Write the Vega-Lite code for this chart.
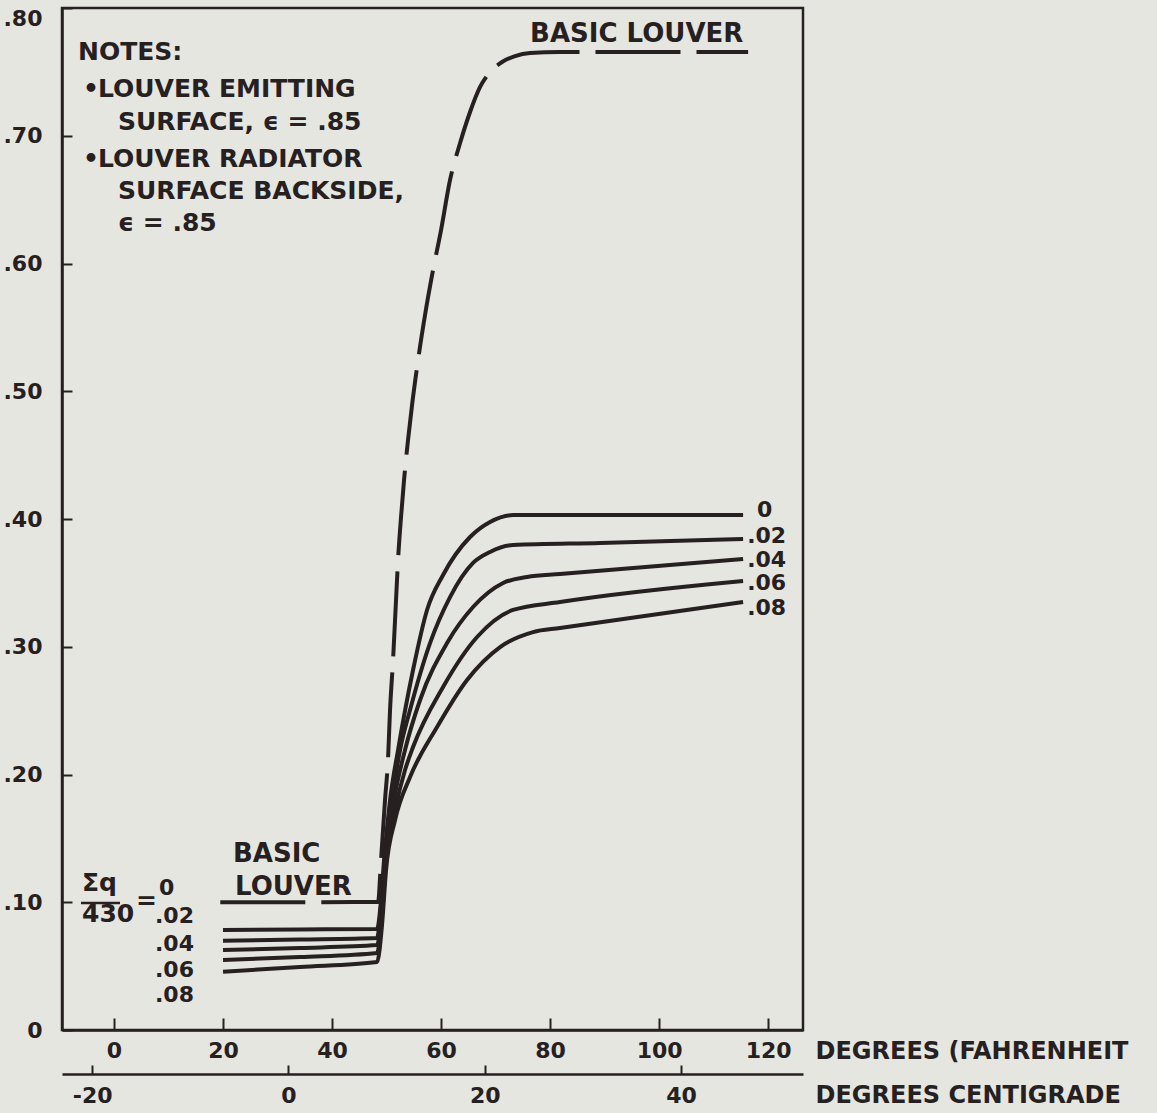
{
  "$schema": "https://vega.github.io/schema/vega-lite/v6.json",
  "width": 741,
  "height": 1022,
  "autosize": {"type": "none"},
  "padding": {"left": 62, "top": 8, "right": 354, "bottom": 83},
  "background": "#e5e6e0",
  "config": {
    "view": {"stroke": "#262020", "strokeWidth": 2.5},
    "font": "DejaVu Sans",
    "axis": {
      "domainColor": "#262020", "domainWidth": 2.5,
      "tickColor": "#262020", "tickWidth": 2,
      "labelColor": "#262020", "labelFont": "DejaVu Sans", "labelFontWeight": "bold", "labelFontSize": 22,
      "labelFlush": false, "labelOverlap": false, "grid": false,
      "titleColor": "#262020", "titleFont": "DejaVu Sans", "titleFontWeight": "bold", "titleFontSize": 24
    }
  },
  "datasets": {
    "basic": [
      {"f": 19.5, "v": 0.100}, {"f": 34.1, "v": 0.100}, {"f": 48.44, "v": 0.1002},
      {"f": 48.99, "v": 0.1331}, {"f": 49.72, "v": 0.180}, {"f": 50.28, "v": 0.2129},
      {"f": 50.64, "v": 0.2505}, {"f": 51.19, "v": 0.2896}, {"f": 51.74, "v": 0.3366},
      {"f": 52.11, "v": 0.3679}, {"f": 52.66, "v": 0.4016}, {"f": 53.21, "v": 0.4305},
      {"f": 53.94, "v": 0.4618}, {"f": 54.68, "v": 0.4892}, {"f": 55.60, "v": 0.519},
      {"f": 57.06, "v": 0.5597}, {"f": 58.53, "v": 0.5949}, {"f": 60.0, "v": 0.6262},
      {"f": 61.65, "v": 0.6654}, {"f": 63.49, "v": 0.6943}, {"f": 65.32, "v": 0.7186},
      {"f": 67.16, "v": 0.7382}, {"f": 69.0, "v": 0.7499}, {"f": 71.19, "v": 0.7577},
      {"f": 73.58, "v": 0.7624}, {"f": 76.33, "v": 0.7648}, {"f": 81.83, "v": 0.7656},
      {"f": 100.0, "v": 0.7656}, {"f": 116.33, "v": 0.7656}
    ],
    "curves": [
      {"q": "0", "f": 20.0, "v": 0.0783}, {"q": "0", "f": 34.13, "v": 0.0787}, {"q": "0", "f": 48.26, "v": 0.0791},
      {"q": "0", "f": 48.99, "v": 0.1018}, {"q": "0", "f": 49.54, "v": 0.1331}, {"q": "0", "f": 50.64, "v": 0.180},
      {"q": "0", "f": 52.11, "v": 0.2192}, {"q": "0", "f": 54.86, "v": 0.2818}, {"q": "0", "f": 57.43, "v": 0.3288},
      {"q": "0", "f": 60.37, "v": 0.3562}, {"q": "0", "f": 65.32, "v": 0.3859}, {"q": "0", "f": 68.99, "v": 0.3977},
      {"q": "0", "f": 73.21, "v": 0.4031}, {"q": "0", "f": 89.17, "v": 0.4031}, {"q": "0", "f": 115.41, "v": 0.4031},

      {"q": ".02", "f": 20.0, "v": 0.0699}, {"q": ".02", "f": 34.13, "v": 0.0708}, {"q": ".02", "f": 48.26, "v": 0.072},
      {"q": ".02", "f": 48.99, "v": 0.0978}, {"q": ".02", "f": 49.72, "v": 0.1331}, {"q": ".02", "f": 51.01, "v": 0.180},
      {"q": ".02", "f": 52.48, "v": 0.2192}, {"q": ".02", "f": 54.31, "v": 0.2505}, {"q": ".02", "f": 57.98, "v": 0.3029},
      {"q": ".02", "f": 61.65, "v": 0.3389}, {"q": ".02", "f": 65.87, "v": 0.3656}, {"q": ".02", "f": 68.99, "v": 0.3742},
      {"q": ".02", "f": 73.21, "v": 0.3796}, {"q": ".02", "f": 89.17, "v": 0.3812}, {"q": ".02", "f": 115.41, "v": 0.3843},

      {"q": ".04", "f": 20.0, "v": 0.0626}, {"q": ".04", "f": 34.13, "v": 0.0642}, {"q": ".04", "f": 48.26, "v": 0.0665},
      {"q": ".04", "f": 49.17, "v": 0.0939}, {"q": ".04", "f": 49.91, "v": 0.1331}, {"q": ".04", "f": 51.38, "v": 0.180},
      {"q": ".04", "f": 53.39, "v": 0.2192}, {"q": ".04", "f": 56.15, "v": 0.2583}, {"q": ".04", "f": 61.10, "v": 0.3029},
      {"q": ".04", "f": 65.87, "v": 0.3311}, {"q": ".04", "f": 71.38, "v": 0.3499}, {"q": ".04", "f": 75.78, "v": 0.3546},
      {"q": ".04", "f": 81.83, "v": 0.3569}, {"q": ".04", "f": 115.41, "v": 0.3687},

      {"q": ".06", "f": 20.0, "v": 0.0548}, {"q": ".06", "f": 34.13, "v": 0.0571}, {"q": ".06", "f": 48.26, "v": 0.0603},
      {"q": ".06", "f": 49.17, "v": 0.090}, {"q": ".06", "f": 49.91, "v": 0.1331}, {"q": ".06", "f": 51.56, "v": 0.1722},
      {"q": ".06", "f": 53.39, "v": 0.2035}, {"q": ".06", "f": 54.86, "v": 0.2215}, {"q": ".06", "f": 60.37, "v": 0.2685},
      {"q": ".06", "f": 66.61, "v": 0.3076}, {"q": ".06", "f": 73.21, "v": 0.3288}, {"q": ".06", "f": 81.83, "v": 0.335},
      {"q": ".06", "f": 115.41, "v": 0.3515},

      {"q": ".08", "f": 20.0, "v": 0.0456}, {"q": ".08", "f": 34.13, "v": 0.0493}, {"q": ".08", "f": 48.26, "v": 0.0532},
      {"q": ".08", "f": 49.17, "v": 0.0822}, {"q": ".08", "f": 49.91, "v": 0.1252}, {"q": ".08", "f": 51.56, "v": 0.1644},
      {"q": ".08", "f": 54.31, "v": 0.198}, {"q": ".08", "f": 59.27, "v": 0.2372}, {"q": ".08", "f": 64.77, "v": 0.274},
      {"q": ".08", "f": 70.83, "v": 0.2998}, {"q": ".08", "f": 76.88, "v": 0.3115}, {"q": ".08", "f": 81.83, "v": 0.3147},
      {"q": ".08", "f": 115.41, "v": 0.335}
    ],
    "labels": [
      {"grp": "note", "t": "NOTES:", "f": -6.61, "v": 0.7593},
      {"grp": "note", "t": "•", "f": -5.7, "v": 0.7303},
      {"grp": "note", "t": "LOUVER EMITTING", "f": -2.94, "v": 0.7303},
      {"grp": "note", "t": "SURFACE, ϵ = .85", "f": 0.73, "v": 0.7045},
      {"grp": "note", "t": "•", "f": -5.7, "v": 0.6755},
      {"grp": "note", "t": "LOUVER RADIATOR", "f": -2.94, "v": 0.6755},
      {"grp": "note", "t": "SURFACE BACKSIDE,", "f": 0.73, "v": 0.6505},
      {"grp": "note", "t": "ϵ = .85", "f": 0.73, "v": 0.6254},
      {"grp": "big", "t": "BASIC LOUVER", "f": 76.33, "v": 0.7734},
      {"grp": "big", "t": "BASIC", "f": 21.83, "v": 0.1315},
      {"grp": "big", "t": "LOUVER", "f": 22.2, "v": 0.1057},
      {"grp": "note", "t": "Σq", "f": -5.87, "v": 0.1088},
      {"grp": "note", "t": "430", "f": -5.87, "v": 0.0845},
      {"grp": "note", "t": "=", "f": 4.04, "v": 0.0947},
      {"grp": "num", "t": "0", "f": 8.26, "v": 0.1057},
      {"grp": "num", "t": ".02", "f": 7.52, "v": 0.0838},
      {"grp": "num", "t": ".04", "f": 7.52, "v": 0.0618},
      {"grp": "num", "t": ".06", "f": 7.52, "v": 0.0415},
      {"grp": "num", "t": ".08", "f": 7.52, "v": 0.0219},
      {"grp": "num", "t": "0", "f": 117.98, "v": 0.4016},
      {"grp": "num", "t": ".02", "f": 116.15, "v": 0.3812},
      {"grp": "num", "t": ".04", "f": 116.15, "v": 0.3624},
      {"grp": "num", "t": ".06", "f": 116.15, "v": 0.3444},
      {"grp": "num", "t": ".08", "f": 116.15, "v": 0.3249}
    ],
    "bar": [{"f": -6.06, "f2": 1.1, "v": 0.0994}],
    "centigrade": [{"c": -20}, {"c": 0}, {"c": 20}, {"c": 40}]
  },
  "layer": [
    {
      "layer": [
        {
          "data": {"name": "basic"},
          "mark": {"type": "line", "color": "#262020", "strokeWidth": 4, "strokeDash": [85, 16], "interpolate": "monotone"},
          "encoding": {
            "x": {
              "field": "f", "type": "quantitative",
              "scale": {"domain": [-9.54, 126.4], "nice": false, "zero": false},
              "axis": {
                "values": [0, 20, 40, 60, 80, 100, 120],
                "tickSize": -12, "labelPadding": 22,
                "title": "DEGREES (FAHRENHEIT",
                "titleX": 753, "titleY": 28, "titleAlign": "left", "titleBaseline": "alphabetic", "titleAngle": 0
              }
            },
            "y": {
              "field": "v", "type": "quantitative",
              "scale": {"domain": [0, 0.8], "nice": false, "zero": true},
              "axis": {
                "values": [0, 0.1, 0.2, 0.3, 0.4, 0.5, 0.6, 0.7, 0.8],
                "tickSize": -10, "labelPadding": 30,
                "labelBaseline": {"condition": {"test": "datum.value >= 0.79", "value": "top"}, "value": "middle"},
                "labelExpr": "datum.value == 0 ? '0' : replace(format(datum.value, '.2f'), '0.', '.')",
                "title": null
              }
            }
          }
        },
        {
          "data": {"name": "curves"},
          "mark": {"type": "line", "color": "#262020", "strokeWidth": 4, "interpolate": "monotone"},
          "encoding": {
            "x": {"field": "f", "type": "quantitative"},
            "y": {"field": "v", "type": "quantitative"},
            "detail": {"field": "q", "type": "nominal"}
          }
        },
        {
          "data": {"name": "bar"},
          "mark": {"type": "rule", "color": "#262020", "strokeWidth": 2.5},
          "encoding": {
            "x": {"field": "f", "type": "quantitative"},
            "x2": {"field": "f2"},
            "y": {"field": "v", "type": "quantitative"}
          }
        },
        {
          "data": {"name": "labels"},
          "transform": [{"filter": "datum.grp == 'note'"}],
          "mark": {"type": "text", "align": "left", "baseline": "alphabetic", "font": "DejaVu Sans", "fontWeight": "bold", "fontSize": 25, "color": "#262020"},
          "encoding": {
            "x": {"field": "f", "type": "quantitative"},
            "y": {"field": "v", "type": "quantitative"},
            "text": {"field": "t"}
          }
        },
        {
          "data": {"name": "labels"},
          "transform": [{"filter": "datum.grp == 'big'"}],
          "mark": {"type": "text", "align": "left", "baseline": "alphabetic", "font": "DejaVu Sans", "fontWeight": "bold", "fontSize": 26, "color": "#262020"},
          "encoding": {
            "x": {"field": "f", "type": "quantitative"},
            "y": {"field": "v", "type": "quantitative"},
            "text": {"field": "t"}
          }
        },
        {
          "data": {"name": "labels"},
          "transform": [{"filter": "datum.grp == 'num'"}],
          "mark": {"type": "text", "align": "left", "baseline": "alphabetic", "font": "DejaVu Sans", "fontWeight": "bold", "fontSize": 22, "color": "#262020"},
          "encoding": {
            "x": {"field": "f", "type": "quantitative"},
            "y": {"field": "v", "type": "quantitative"},
            "text": {"field": "t"}
          }
        }
      ]
    },
    {
      "data": {"name": "centigrade"},
      "mark": {"type": "point", "opacity": 0},
      "encoding": {
        "x": {
          "field": "c", "type": "quantitative",
          "scale": {"domain": [-23.08, 52.44], "nice": false, "zero": false},
          "axis": {
            "orient": "bottom", "offset": 44,
            "values": [-20, 0, 20, 40],
            "tickSize": -9, "labelPadding": 20,
            "labelExpr": "datum.value < 0 ? '-' + abs(datum.value) : '' + datum.value",
            "title": "DEGREES CENTIGRADE",
            "titleX": 753, "titleY": 28, "titleAlign": "left", "titleBaseline": "alphabetic", "titleAngle": 0
          }
        }
      }
    }
  ],
  "resolve": {"scale": {"x": "independent"}}
}
